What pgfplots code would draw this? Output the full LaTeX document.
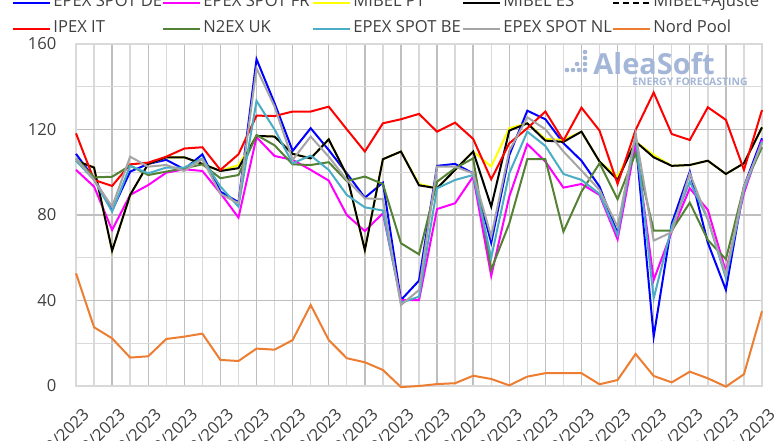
\documentclass[border=0pt]{standalone}
\usepackage{fontspec}
\setmainfont{Open Sans}
\usepackage{pgfplots}
\usepackage{pgfplotstable}
\pgfplotsset{compat=1.18}
\definecolor{deblue}{RGB}{0,0,255}
\definecolor{frmag}{RGB}{255,0,255}
\definecolor{ptyel}{RGB}{255,255,0}
\definecolor{itred}{RGB}{255,0,0}
\definecolor{ukgreen}{RGB}{84,130,53}
\definecolor{beblue}{RGB}{75,172,198}
\definecolor{nlgray}{RGB}{165,165,165}
\definecolor{nporange}{RGB}{237,125,49}
\definecolor{logo}{RGB}{164,182,216}
\definecolor{majgrid}{RGB}{191,191,191}
\definecolor{mingrid}{RGB}{217,217,217}
\definecolor{ticktext}{RGB}{64,64,64}
\newcommand\cf{\fontsize{8.3}{10}\selectfont}
\newcommand\legbox[1]{\makebox[50pt][l]{#1}}
\pgfplotstableread{
x DE FR PT ES IT UK BE NL NP
0 108.6 101.1 105.4 105.4 118.2 106.5 105.4 106.5 52.7
1 97.2 93.3 102.2 102.2 96.4 97.6 96.4 96.4 27.5
2 82.1 73.0 63.3 63.3 93.6 97.9 81.6 83.9 22.3
3 100.3 89.4 89.4 89.4 103.7 103.1 103.0 107.3 13.3
4 103.9 94.0 103.9 103.9 104.5 98.7 99.5 102.6 13.9
5 105.8 99.8 107.0 107.0 107.3 100.3 102.2 103.4 22.0
6 101.4 101.4 107.0 107.0 111.1 101.9 102.2 100.6 23.1
7 108.4 100.6 103.9 103.9 111.7 103.7 106.5 106.1 24.5
8 90.9 90.2 100.6 100.6 101.1 97.2 93.3 89.9 12.2
9 86.0 78.8 103.4 101.9 108.4 98.7 83.9 85.5 11.7
10 152.9 116.4 117.0 117.0 126.5 117.4 133.4 148.6 17.5
11 132.3 107.6 116.7 116.7 126.3 112.6 120.0 130.7 17.0
12 110.0 105.8 108.6 108.6 128.4 103.7 104.2 105.8 21.5
13 120.6 101.1 106.5 106.5 128.4 103.4 107.8 116.7 37.9
14 110.4 96.1 115.4 115.4 130.7 104.7 101.1 107.3 21.5
15 99.5 80.0 98.7 98.7 120.1 95.9 89.4 96.4 13.0
16 88.1 72.5 63.6 63.6 109.7 98.0 83.6 87.8 11.1
17 95.1 80.8 106.1 106.1 122.9 94.5 82.1 87.4 7.5
18 40.2 40.2 109.7 109.7 124.8 66.8 39.0 37.9 -0.5
19 49.3 40.2 94.5 93.9 127.3 61.6 41.8 44.9 0.0
20 103.0 82.8 92.5 92.5 119.0 95.6 92.5 102.6 0.9
21 103.9 85.5 101.1 101.1 123.2 101.9 96.4 102.6 1.3
22 99.5 98.0 109.7 109.7 115.6 106.5 98.7 99.5 4.8
23 67.0 51.5 102.7 83.9 96.7 54.5 60.0 70.0 3.3
24 108.0 88.6 120.6 119.5 113.5 76.0 99.5 110.0 0.3
25 128.8 113.2 122.9 122.9 120.6 106.1 119.0 125.7 4.4
26 124.8 105.0 115.6 114.8 128.4 106.1 112.3 120.1 6.0
27 113.6 92.8 115.1 114.2 114.8 72.2 99.2 109.7 6.0
28 105.4 94.5 119.0 119.0 130.2 90.9 96.4 100.8 6.0
29 93.3 89.4 105.0 105.0 119.5 104.2 89.9 91.7 0.8
30 71.4 68.6 98.0 96.4 94.5 87.4 70.6 74.5 2.8
31 115.1 113.6 114.3 114.3 119.8 108.9 117.4 117.9 15.0
32 23.1 49.6 108.1 107.0 137.3 72.7 41.0 68.0 4.7
33 76.0 72.2 103.0 103.0 117.9 72.7 74.5 72.0 1.7
34 100.3 92.5 103.4 103.4 115.1 85.8 95.6 99.5 6.7
35 67.0 82.4 105.4 105.4 130.4 68.3 78.0 78.0 3.6
36 45.0 53.5 99.2 99.2 124.5 59.3 50.5 52.0 -0.3
37 93.3 90.2 104.2 104.2 101.1 93.3 91.7 93.3 5.5
38 115.9 115.1 121.0 121.0 129.1 111.7 114.3 113.5 35.0
}\pricedata
\begin{document}
\begin{tikzpicture}
\begin{axis}[
  at={(38pt,27pt)}, anchor=south west,
  scale only axis, width=343pt, height=171pt,
  xmin=0, xmax=38, ymin=0, ymax=160,
  clip=false,
  axis line style={mingrid, line width=0.7pt},
  xtick={0,2,...,38}, minor xtick={1,3,...,37},
  xticklabels={01/10/2023,03/10/2023,05/10/2023,07/10/2023,09/10/2023,11/10/2023,13/10/2023,15/10/2023,17/10/2023,19/10/2023,21/10/2023,23/10/2023,25/10/2023,27/10/2023,29/10/2023,31/10/2023,02/11/2023,04/11/2023,06/11/2023,08/11/2023},
  ytick={0,40,...,160}, minor ytick={20,60,100,140},
  grid=both,
  major grid style={majgrid, line width=0.7pt},
  minor grid style={mingrid, line width=0.7pt},
  major tick length=0pt, minor tick length=0pt,
  tick label style={font=\cf, text=ticktext},
  /pgf/number format/assume math mode=true,
  xticklabel style={rotate=45, anchor=north east, yshift=-6pt, xshift=-2pt},
  yticklabel style={xshift=-6.3pt},
  every axis plot/.append style={line width=1pt},
  legend columns=5,
  legend cell align=left,
  legend image code/.code={\draw[#1] (0pt,0pt) -- (18.5pt,0pt);},
  legend style={at={(axis description cs:0.4489,1.0832)}, anchor=center,
    draw=none, fill=none, font=\cf, text=ticktext,
    nodes={inner sep=1pt, text height=6pt, text depth=1.6pt},
    /tikz/every even column/.append style={column sep=3.5pt},
    row sep=3.4pt},
]
\addplot[deblue] table[x=x, y=DE] {\pricedata};
\addlegendentry{\legbox{EPEX SPOT DE}}
\addplot[frmag] table[x=x, y=FR] {\pricedata};
\addlegendentry{\legbox{EPEX SPOT FR}}
\addplot[ptyel] table[x=x, y=PT] {\pricedata};
\addlegendentry{\legbox{MIBEL PT}}
\addplot[black] table[x=x, y=ES] {\pricedata};
\addlegendentry{\legbox{MIBEL ES}}
\addlegendimage{black, line width=1pt, dash pattern=on 3pt off 2pt}
\addlegendentry{\legbox{MIBEL+Ajuste}}
\addplot[itred] table[x=x, y=IT] {\pricedata};
\addlegendentry{\legbox{IPEX IT}}
\addplot[ukgreen] table[x=x, y=UK] {\pricedata};
\addlegendentry{\legbox{N2EX UK}}
\addplot[beblue] table[x=x, y=BE] {\pricedata};
\addlegendentry{\legbox{EPEX SPOT BE}}
\addplot[nlgray] table[x=x, y=NL] {\pricedata};
\addlegendentry{\legbox{EPEX SPOT NL}}
\addplot[nporange] table[x=x, y=NP] {\pricedata};
\addlegendentry{\legbox{Nord Pool}}
\end{axis}
% logo
\node[anchor=base west, inner sep=0pt, text=logo, font=\fontsize{14.5}{16}\selectfont\bfseries] at (296.5pt,182.5pt) {AleaSoft};
\node[anchor=base east, inner sep=0pt, text=logo, font=\fontsize{5.2}{6}\selectfont\bfseries] at (374pt,177pt) {ENERGY FORECASTING};
\foreach \px/\py in {567/70, 573/70, 579/70, 577/64, 585/70, 585/64, 585/58, 585/52}
  \fill[logo] (\px*0.5pt, 220pt-\py*0.5pt) circle (1.15pt);
\pgfresetboundingbox
\useasboundingbox (0,0) rectangle (390pt,220pt);
\end{tikzpicture}
\end{document}
